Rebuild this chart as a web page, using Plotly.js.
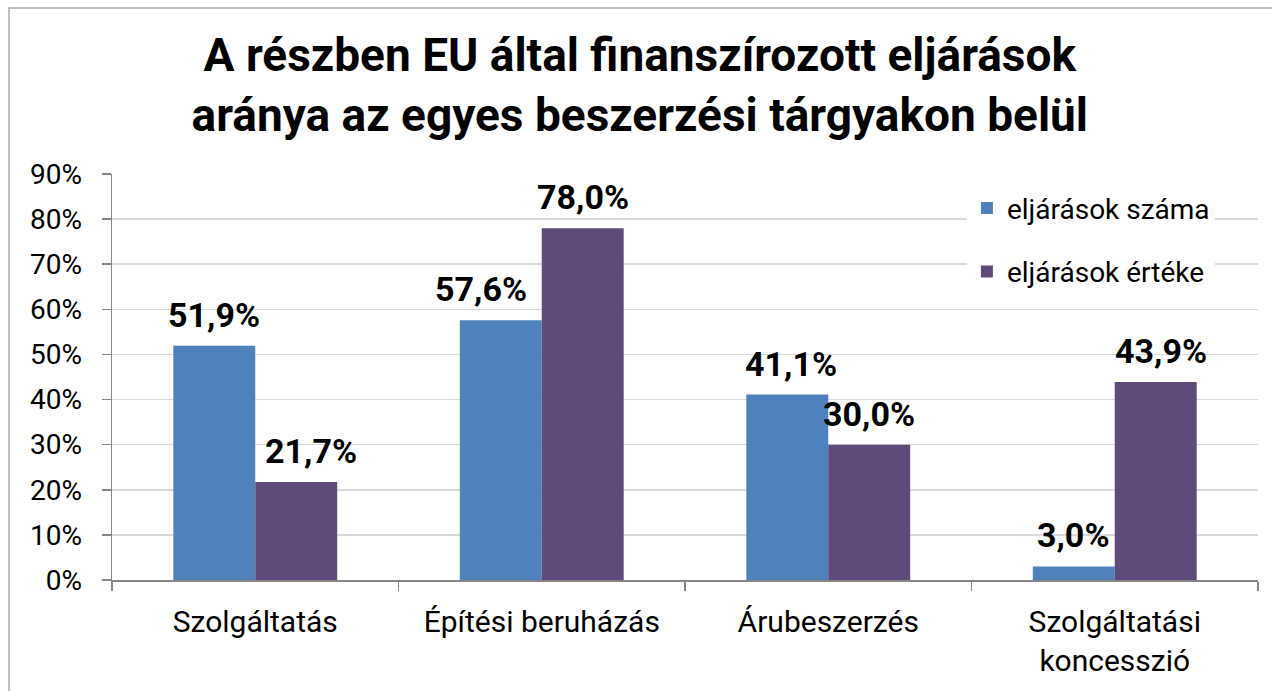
<!DOCTYPE html>
<html>
<head>
<meta charset="utf-8">
<script src="https://cdn.plot.ly/plotly-3.0.1.min.js"></script>
<style>
  html, body { margin: 0; padding: 0; background: #ffffff; }
  #wrap { position: relative; width: 1272px; height: 691px; overflow: hidden; }
  #chart { position: absolute; left: 0; top: 0; width: 1272px; height: 691px; }
  #frame { position: absolute; left: 8px; top: 7px; width: 1400px; height: 800px;
           border-left: 2px solid #bfbfbf; border-top: 2px solid #bfbfbf; pointer-events: none; }
</style>
</head>
<body>
<div id="wrap">
  <div id="chart"></div>
  <div id="frame"></div>
</div>
<script>
const categories = ['Szolgáltatás', 'Építési beruházás', 'Árubeszerzés', 'Szolgáltatási<br>koncesszió'];
const seriesNames = ['eljárások száma', 'eljárások értéke'];
const countShare = [51.9, 57.6, 41.1, 3.0];
const valueShare = [21.7, 78.0, 30.0, 43.9];
const yTickStep = 10;
const yMax = 90;

// ---- styling ----
const FONT = 'Roboto, "Noto Sans", sans-serif';
const colors = ['#4f81bd', '#604a7b'];
const seriesValues = [countShare, valueShare];
const halfBarPx = 41;
// small horizontal nudges of individual data labels (px), as in the original
const labelNudge = [[0, -20, 4, 0], [15, 0, 0, 5]];

const traces = seriesValues.map((vals, i) => ({
  type: 'bar',
  name: seriesNames[i],
  x: categories,
  y: vals,
  marker: { color: colors[i], line: { width: 0 } },
  legendgroup: 'g' + i,
  hoverinfo: 'skip'
}));

// data labels above bars
const annotations = [];
seriesValues.forEach((vals, i) => {
  vals.forEach((v, j) => {
    annotations.push({
      x: categories[j], y: v, xref: 'x', yref: 'y',
      text: v.toFixed(1).replace('.', ',') + '%',
      showarrow: false,
      xanchor: 'center', yanchor: 'bottom',
      xshift: (i === 0 ? -halfBarPx : halfBarPx) + labelNudge[i][j],
      yshift: 9,
      font: { family: FONT, size: 34, color: '#000000', weight: 700 }
    });
  });
});

const layout = {
  width: 1272, height: 691,
  margin: { l: 112, r: 14, t: 174, b: 111 },
  paper_bgcolor: '#ffffff', plot_bgcolor: '#ffffff',
  separators: ', ',
  title: {
    text: 'A részben EU által finanszírozott eljárások<br>aránya az egyes beszerzési tárgyakon belül',
    font: { family: FONT, size: 46, color: '#000000', weight: 700 },
    x: 0.503, xanchor: 'center', xref: 'container', yref: 'container', y: 0.897, yanchor: 'top'
  },
  barmode: 'group',
  bargap: 0.428,
  bargroupgap: 0,
  showlegend: true,
  legend: {
    x: 0.746, y: 0.977, xanchor: 'left', yanchor: 'top',
    bgcolor: '#ffffff',
    font: { family: FONT, size: 28, color: '#000000' },
    traceorder: 'grouped', tracegroupgap: 24,
    itemwidth: 30
  },
  xaxis: {
    type: 'category',
    showline: true, linecolor: '#868686', linewidth: 1.5,
    ticks: 'outside', tickson: 'boundaries', ticklen: 9, tickcolor: '#868686', tickwidth: 1.5,
    showgrid: false,
    ticklabelstandoff: 14,
    tickfont: { family: FONT, size: 30, color: '#000000' },
    fixedrange: true
  },
  yaxis: {
    range: [0, yMax],
    tickmode: 'linear', tick0: 0, dtick: yTickStep,
    ticksuffix: '%',
    showline: true, linecolor: '#868686', linewidth: 1.5,
    ticks: 'outside', ticklen: 9, tickcolor: '#868686', tickwidth: 1.5,
    showgrid: true, gridcolor: '#d9d9d9', gridwidth: 1.5,
    zeroline: false,
    ticklabelstandoff: 14,
    tickfont: { family: FONT, size: 28, color: '#000000' },
    fixedrange: true
  },
  annotations: annotations
};

Plotly.newPlot('chart', traces, layout, { displayModeBar: false, staticPlot: true });
</script>
</body>
</html>
